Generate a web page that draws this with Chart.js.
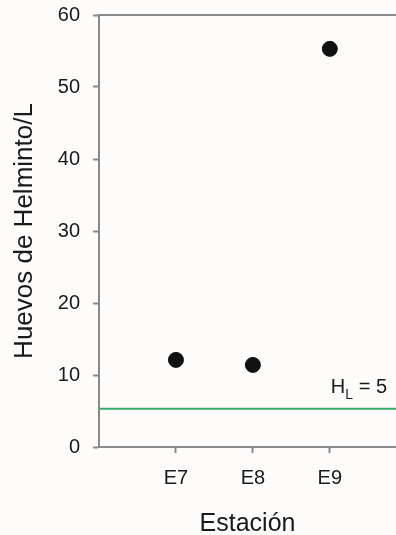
<!DOCTYPE html>
<html>
<head>
<meta charset="utf-8">
<script src="https://cdn.jsdelivr.net/npm/chart.js@4"></script>
<style>
  html, body { margin: 0; padding: 0; background: #fdfcfb; }
  canvas { display: block; }
</style>
</head>
<body>
<canvas id="c" width="396" height="535"></canvas>
<script>
// ---- data ----
const categories = ["E7", "E8", "E9"];
const categoryPositions = [1, 2, 3];
const huevos = [12.1, 11.4, 55.3];
const limitValue = 5.3;          // position of drawn limit line
const limitLabel = "5";           // H_L = 5
const yTicks = [0, 10, 20, 30, 40, 50, 60];

const AXIS = '#8a8a8a';
const TEXT = '#1a1a1a';
const FONT = 'Arial, "Liberation Sans", sans-serif';

const pointData = categories.map((c, i) => ({ x: categoryPositions[i], y: huevos[i] }));
const X_MIN = 0, X_MAX = 3.86;

const extras = {
  id: 'extras',
  afterDraw(chart) {
    const { ctx, chartArea, scales } = chart;
    ctx.save();
    // top frame line
    ctx.strokeStyle = AXIS;
    ctx.lineWidth = 2;
    ctx.beginPath();
    ctx.moveTo(chartArea.left - 1, chartArea.top);
    ctx.lineTo(chartArea.right, chartArea.top);
    ctx.stroke();
    // H_L label
    const yLine = scales.y.getPixelForValue(limitValue);
    const right = chartArea.right - 9;
    const base = yLine - 16;
    ctx.fillStyle = TEXT;
    ctx.textBaseline = 'alphabetic';
    ctx.font = '20px ' + FONT;
    const rest = ' = ' + limitLabel;
    const wRest = ctx.measureText(rest).width;
    ctx.font = '14px ' + FONT;
    const wSub = ctx.measureText('L').width;
    ctx.font = '20px ' + FONT;
    const wH = ctx.measureText('H').width;
    let x = right - wRest - wSub - wH;
    ctx.fillText('H', x, base);
    x += wH;
    ctx.font = '14px ' + FONT;
    ctx.fillText('L', x, base + 6);
    x += wSub;
    ctx.font = '20px ' + FONT;
    ctx.fillText(rest, x, base);
    ctx.restore();
  }
};

new Chart(document.getElementById('c'), {
  type: 'scatter',
  data: {
    datasets: [
      {
        type: 'line',
        data: [{ x: X_MIN, y: limitValue }, { x: X_MAX, y: limitValue }],
        borderColor: '#35ad6b',
        borderWidth: 2,
        pointRadius: 0,
        fill: false,
        order: 2
      },
      {
        data: pointData,
        backgroundColor: '#111111',
        borderColor: '#111111',
        pointRadius: 7.5,
        pointHoverRadius: 7.5,
        order: 1
      }
    ]
  },
  options: {
    responsive: false,
    devicePixelRatio: 1,
    animation: false,
    layout: { autoPadding: false, padding: { top: 15, right: 0, left: 0, bottom: 0 } },
    plugins: { legend: { display: false }, tooltip: { enabled: false } },
    scales: {
      x: {
        type: 'linear',
        min: X_MIN,
        max: X_MAX,
        afterBuildTicks(scale) { scale.ticks = categoryPositions.map(v => ({ value: v })); },
        afterFit(scale) { scale.height = 88; scale.paddingLeft = 0; scale.paddingRight = 0; },
        ticks: {
          callback: (v) => categories[categoryPositions.indexOf(v)],
          color: TEXT,
          font: { size: 20, family: FONT },
          padding: 13,
          maxRotation: 0
        },
        grid: { drawOnChartArea: false, drawTicks: true, tickLength: 6, color: AXIS, tickWidth: 2 },
        border: { color: AXIS, width: 2 },
        title: {
          display: true,
          text: 'Estación',
          color: TEXT,
          font: { size: 25, family: FONT, lineHeight: 0.9 },
          padding: { top: 0, bottom: 0 }
        }
      },
      y: {
        min: 0,
        max: 60,
        afterBuildTicks(scale) { scale.ticks = yTicks.map(v => ({ value: v })); },
        afterFit(scale) { scale.width = 99; scale.paddingTop = 0; scale.paddingBottom = 0; },
        ticks: {
          color: TEXT,
          font: { size: 20, family: FONT },
          padding: 13
        },
        grid: { drawOnChartArea: false, drawTicks: true, tickLength: 6, color: AXIS, tickWidth: 2 },
        border: { color: AXIS, width: 2 },
        title: {
          display: true,
          text: 'Huevos de Helminto/L',
          color: TEXT,
          font: { size: 26, family: FONT, lineHeight: 1.2 },
          padding: { top: 9, bottom: 0 }
        }
      }
    }
  },
  plugins: [extras]
});
</script>
</body>
</html>
